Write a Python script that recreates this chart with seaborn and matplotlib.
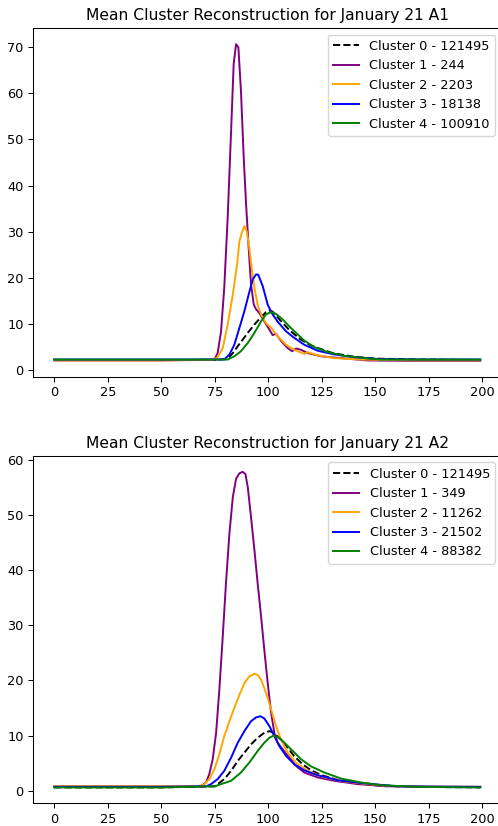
import matplotlib
matplotlib.use("Agg")
import matplotlib.pyplot as plt
import seaborn as sns

# cluster sizes for the legends
sizes_a1 = [121495, 244, 2203, 18138, 100910]
sizes_a2 = [121495, 349, 11262, 21502, 88382]

colors = ["black", "purple", "orange", "blue", "green"]
styles = ["--", "-", "-", "-", "-"]

# ---- January 21 A1 ----
a1_x0 = [0, 25, 50, 75, 81, 83.4, 85.7, 88, 90.4, 93.5, 96.6, 98.9, 100.5, 102, 105, 110, 115, 120, 130, 140, 150, 170, 199]
a1_y0 = [2.1, 2.1, 2.1, 2.1, 2.4, 3.6, 5.1, 6.5, 8.0, 9.8, 11.4, 12.5, 12.8, 12.6, 11.0, 8.5, 6.6, 5.2, 3.6, 2.8, 2.4, 2.2, 2.1]

a1_x1 = [0, 25, 50, 74.8, 76.3, 77.9, 79.4, 81.0, 82.6, 83.8, 84.9, 86.0, 87.2, 88.5, 89.6, 90.8, 91.9, 93.2, 94.3,
         95.8, 98.1, 100.5, 102, 103.5, 106, 109, 111.1, 113, 115.3, 118.4, 124.6, 134, 146.4, 170, 199]
a1_y1 = [2.0, 2.0, 2.0, 2.2, 3.6, 8.3, 17.8, 33.0, 51.9, 66.4, 70.7, 70.0, 60.6, 46.0, 35.9, 26.5, 18.5, 14.1, 13.1,
         12.3, 10.5, 8.7, 7.5, 7.8, 6.2, 4.7, 4.0, 4.6, 4.3, 3.6, 2.9, 2.5, 2.0, 1.9, 1.9]

a1_x2 = [0, 25, 50, 74, 76.3, 78.7, 81, 83.4, 85.4, 86.5, 87.6, 88.8, 89.9, 91.1, 92.2, 93.5, 95, 96.6, 98.9, 101.3,
         104.4, 108.3, 112.1, 116.8, 118.4, 123.1, 130.8, 143.3, 170, 199]
a1_y2 = [2.0, 2.0, 2.0, 2.1, 2.7, 4.7, 9.8, 16.3, 22.9, 27.9, 29.7, 31.2, 30.1, 26.5, 22.1, 17.8, 14.1, 12.0, 10.1, 9.1,
         7.2, 5.4, 4.3, 3.4, 3.8, 3.1, 2.5, 2.2, 2.0, 2.0]

a1_x3 = [0, 25, 50, 79.4, 81.8, 84.1, 86.5, 88.8, 90.8, 92.7, 94.3, 95.3, 97.4, 99.7, 102, 104.4, 108.3, 112.1, 116.8,
         123.1, 130.8, 140.2, 151.1, 170, 199]
a1_y3 = [2.2, 2.2, 2.2, 2.2, 3.3, 5.4, 9.1, 12.7, 16.3, 19.6, 20.7, 20.6, 18.1, 14.1, 12.0, 10.4, 8.3, 6.9, 5.4,
         4.1, 3.3, 2.7, 2.3, 2.2, 2.2]

a1_x4 = [0, 25, 50, 81, 84.1, 87.2, 90.4, 93.5, 96.6, 98.9, 101.3, 103.6, 106.7, 109.8, 112.9, 116.8, 121.5, 127.8,
         135.5, 144.9, 152.6, 170, 199]
a1_y4 = [2.2, 2.2, 2.2, 2.2, 2.9, 4.0, 5.8, 8.0, 10.5, 12.0, 12.5, 12.1, 10.9, 9.4, 8.0, 6.3, 4.9, 3.8,
         3.0, 2.5, 2.2, 2.2, 2.2]

# ---- January 21 A2 ----
a2_x0 = [0, 25, 50, 75, 76.3, 79.4, 82.6, 85.7, 88.8, 91.9, 95, 98.1, 100.5, 102, 105, 108, 112, 116, 120, 125, 132,
         140, 150, 170, 199]
a2_y0 = [0.6, 0.6, 0.6, 0.8, 1.2, 2.1, 3.6, 5.4, 6.9, 8.4, 9.6, 10.5, 10.8, 10.6, 9.6, 8.3, 6.3, 4.8, 3.7, 2.8, 2.0,
         1.5, 1.0, 0.7, 0.6]

a2_x1 = [0, 25, 50, 66, 68.6, 70.9, 72.4, 74, 75.6, 77.1, 78.7, 80.2, 81.8, 83.4, 84.9, 86.4, 88, 89.3, 90.4, 91.9,
         93.5, 95, 96.6, 98.1, 99.7, 101.3, 102.8, 104.4, 106.7, 109.8, 112.9, 116.8, 123.1, 130.8, 141.8, 155, 175, 199]
a2_y1 = [0.8, 0.8, 0.8, 0.8, 0.9, 1.5, 3.0, 5.7, 10.5, 18.3, 28.0, 37.6, 46.6, 53.2, 56.5, 57.5, 57.8, 57.4, 55.0, 49.6,
         43.6, 37.6, 31.6, 25.6, 19.5, 14.1, 10.5, 8.7, 7.5, 6.0, 4.5, 3.3, 2.4, 1.8, 1.2, 0.8, 0.7, 0.7]

a2_x2 = [0, 25, 50, 68, 70.1, 72.4, 74.8, 77.1, 79.4, 81.8, 84.1, 86.5, 88.8, 91.1, 93.5, 95, 96.6, 98.1, 99.7, 101.3,
         103.6, 105.9, 109, 112.9, 118.4, 126.2, 135.5, 146.4, 160, 199]
a2_y2 = [0.8, 0.8, 0.8, 0.8, 1.2, 2.1, 3.9, 6.6, 9.9, 12.6, 15.0, 17.4, 19.5, 20.7, 21.2, 21.0, 20.1, 18.6, 16.8, 14.7,
         11.7, 9.3, 6.9, 5.1, 3.6, 2.4, 1.7, 1.2, 0.8, 0.7]

a2_x3 = [0, 25, 50, 71, 73.2, 76.3, 79.4, 82.6, 85.7, 88.8, 91.9, 94.3, 96.3, 98.1, 100.5, 102.8, 105.1, 108.3, 112.1,
         116.8, 123.1, 132.4, 143.3, 160, 199]
a2_y3 = [0.7, 0.7, 0.7, 0.8, 1.2, 2.1, 3.6, 6.0, 8.7, 10.8, 12.6, 13.3, 13.5, 13.1, 11.7, 9.9, 8.1, 6.3, 4.8,
         3.7, 2.8, 1.9, 1.4, 0.8, 0.7]

a2_x4 = [0, 25, 50, 75, 77.9, 82.6, 87.2, 91.1, 95, 98.1, 100.5, 102.5, 105.1, 108.3, 111.4, 115.3, 120, 126.2, 134,
         143.3, 152.6, 170, 199]
a2_y4 = [0.6, 0.6, 0.6, 0.8, 1.2, 1.8, 3.3, 5.1, 7.2, 8.7, 9.6, 10.0, 9.6, 8.4, 7.2, 5.7, 4.4, 3.3, 2.2,
         1.5, 1.0, 0.7, 0.6]

a1_xs = [a1_x0, a1_x1, a1_x2, a1_x3, a1_x4]
a1_ys = [a1_y0, a1_y1, a1_y2, a1_y3, a1_y4]
a2_xs = [a2_x0, a2_x1, a2_x2, a2_x3, a2_x4]
a2_ys = [a2_y0, a2_y1, a2_y2, a2_y3, a2_y4]

# the reference looks like a default plot shrunk a little
plt.rcParams.update({
    "font.size": 9.3,
    "axes.titlesize": 11.2,
    "xtick.labelsize": 9.3,
    "ytick.labelsize": 9.3,
    "legend.fontsize": 9.3,
    "axes.linewidth": 0.75,
    "xtick.major.size": 3.3,
    "ytick.major.size": 3.3,
    "xtick.major.width": 0.75,
    "ytick.major.width": 0.75,
})


def draw_panel(ax, xs, ys, sizes, title):
    for i in range(5):
        sns.lineplot(x=xs[i], y=ys[i], ax=ax, color=colors[i], linestyle=styles[i],
                     linewidth=1.4, estimator=None, label="Cluster %d - %d" % (i, sizes[i]))
    ax.set_title(title)
    ax.set_xticks([0, 25, 50, 75, 100, 125, 150, 175, 200])
    ax.legend(loc="upper right")


fig = plt.figure(figsize=(4.98, 8.26), dpi=100)
ax1 = fig.add_axes([0.0663, 0.5439, 0.9408, 0.4218])
ax2 = fig.add_axes([0.0663, 0.0276, 0.9408, 0.4203])

draw_panel(ax1, a1_xs, a1_ys, sizes_a1, "Mean Cluster Reconstruction for January 21 A1")
draw_panel(ax2, a2_xs, a2_ys, sizes_a2, "Mean Cluster Reconstruction for January 21 A2")
ax1.set_xlim(-9.95, 208.95)
ax2.set_xlim(-9.95, 208.95)

plt.savefig("out.png", dpi=100)
